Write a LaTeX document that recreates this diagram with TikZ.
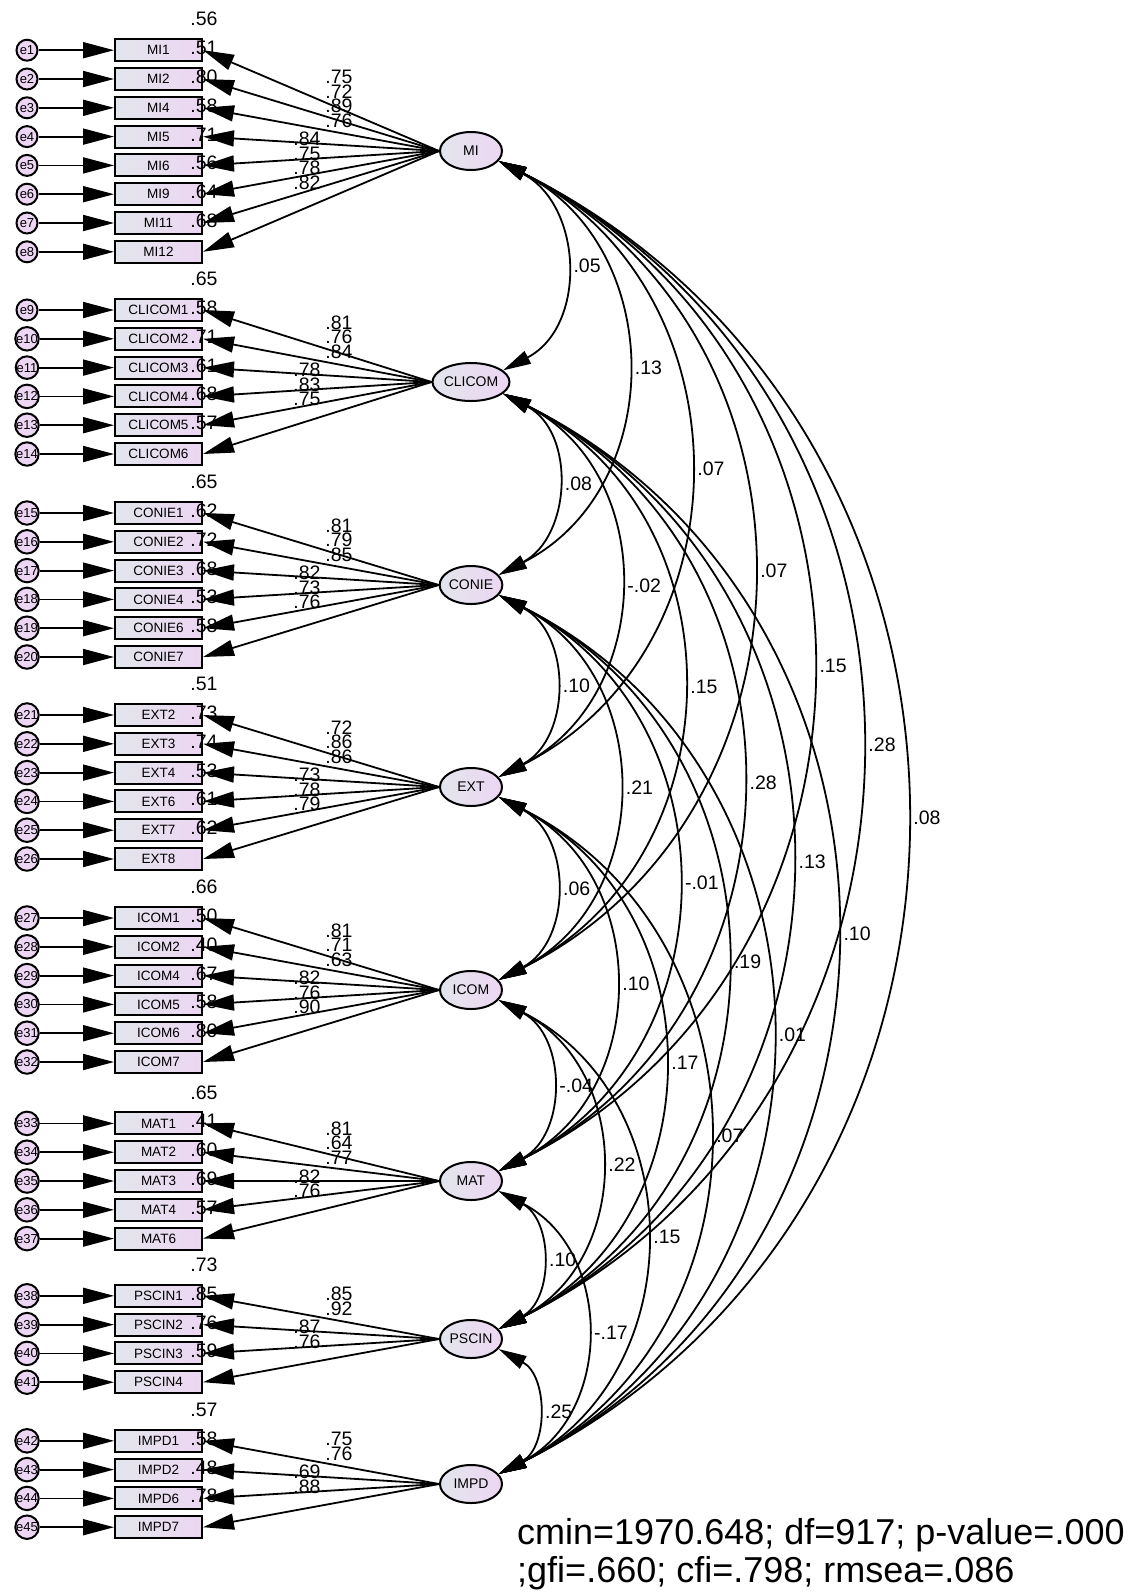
\documentclass[tikz,border=0pt]{standalone}
\usepackage{fontspec}
\setmainfont{Liberation Sans}
\usetikzlibrary{arrows.meta,shapes.geometric,calc}
\definecolor{fillL}{RGB}{226,230,236}
\definecolor{fillR}{RGB}{237,214,243}
\tikzset{
 obs/.style={draw, line width=2pt, minimum width=87pt, minimum height=22pt, inner sep=0pt, left color=fillL, right color=fillR, font=\fontsize{13.5}{13.5}\selectfont},
 lat/.style={ellipse, draw, line width=2pt, minimum width=62pt, minimum height=38pt, inner sep=0pt, left color=fillL, right color=fillR, font=\fontsize{14}{14}\selectfont},
 err/.style={circle, draw, line width=2pt, minimum size=21pt, inner sep=0pt, fill=fillR, font=\fontsize{13}{13}\selectfont},
 arr/.style={line width=1.8pt, -{Triangle[length=31pt,width=16pt]}},
 cov/.style={line width=1.8pt, {Triangle[length=28pt,width=14pt]}-{Triangle[length=28pt,width=14pt]}},
 num/.style={font=\fontsize{19.5}{19.5}\selectfont, inner sep=0pt},
 fit/.style={font=\fontsize{36}{36}\selectfont, inner sep=0pt, anchor=base west},
}
\newcommand\mkgroup[5]{%
  \node[lat] (#1) at (471,#2) {#1};
  \foreach \bx/\rr/\ld [count=\i from 0] in {#4} {
    \pgfmathsetmacro\off{(\i-(#3-1)/2)*28.8}
    \pgfmathsetmacro\yy{#2+\off}
    \pgfmathtruncatemacro\en{#5+\i}
    \pgfmathsetmacro\lx{\off>0 ? 307 : 339}
    \pgfmathsetmacro\ly{#2+\off/2-(\off>0 ? 19 : 23.5)}
    \node[obs] (\bx) at (158.5,\yy) {\bx};
    \node[err] (e\en) at (27,\yy) {e\en};
    \draw[arr] (e\en) -- (\bx);
    \draw[arr] (#1.west) -- (\bx.east);
    \node[num] (r\bx) at (204,\yy-31) {\rr};
    \node[num] (l\bx) at (\lx,\ly) {\ld};
  }
}
\newcommand\covar[3]{%
  \draw[cov] let \p1=(#1.-20), \p2=(#2.20), \n1={(\y1-\y2)/2}, \n2={0.62*\n1-1.6}, \n3={\n2/\n1}, \n4={0.6667*\n1*(1-\n3*\n3)}
  in (\p1) .. controls ({\x1+1.3333*\n2},{\y1-\n4}) and ({\x2+1.3333*\n2},{\y2+\n4}) .. (\p2)
  node[num, pos=0.5, anchor=west, xshift=8.5pt] {#3};}
\begin{document}
\begin{tikzpicture}[x=1pt,y=-1pt]
\fill[white] (0,0) rectangle (1145,1596);
\useasboundingbox (0,0) rectangle (1145,1596);
\mkgroup{MI}{151}{8}{MI1/.56/.75, MI2/.51/.72, MI4/.80/.89, MI5/.58/.76, MI6/.71/.84, MI9/.56/.75, MI11/.64/.78, MI12/.68/.82}{1}
\mkgroup{CLICOM}{382}{6}{CLICOM1/.65/.81, CLICOM2/.58/.76, CLICOM3/.71/.84, CLICOM4/.61/.78, CLICOM5/.68/.83, CLICOM6/.57/.75}{9}
\mkgroup{CONIE}{585}{6}{CONIE1/.65/.81, CONIE2/.62/.79, CONIE3/.72/.85, CONIE4/.68/.82, CONIE6/.53/.73, CONIE7/.58/.76}{15}
\mkgroup{EXT}{787}{6}{EXT2/.51/.72, EXT3/.73/.86, EXT4/.74/.86, EXT6/.53/.73, EXT7/.61/.78, EXT8/.62/.79}{21}
\mkgroup{ICOM}{990}{6}{ICOM1/.66/.81, ICOM2/.50/.71, ICOM4/.40/.63, ICOM5/.67/.82, ICOM6/.58/.76, ICOM7/.80/.90}{27}
\mkgroup{MAT}{1181}{5}{MAT1/.65/.81, MAT2/.41/.64, MAT3/.60/.77, MAT4/.69/.82, MAT6/.57/.76}{33}
\mkgroup{PSCIN}{1339}{4}{PSCIN1/.73/.85, PSCIN2/.85/.92, PSCIN3/.76/.87, PSCIN4/.59/.76}{38}
\mkgroup{IMPD}{1484}{4}{IMPD1/.57/.75, IMPD2/.58/.76, IMPD6/.48/.69, IMPD7/.78/.88}{42}
% covariances
\covar{MI}{CLICOM}{.05}
\covar{MI}{CONIE}{.13}
\covar{MI}{EXT}{.07}
\covar{MI}{ICOM}{.07}
\covar{MI}{MAT}{.15}
\covar{MI}{PSCIN}{.28}
\covar{MI}{IMPD}{.08}
\covar{CLICOM}{CONIE}{.08}
\covar{CLICOM}{EXT}{-.02}
\covar{CLICOM}{ICOM}{.15}
\covar{CLICOM}{MAT}{.28}
\covar{CLICOM}{PSCIN}{.13}
\covar{CLICOM}{IMPD}{.10}
\covar{CONIE}{EXT}{.10}
\covar{CONIE}{ICOM}{.21}
\covar{CONIE}{MAT}{-.01}
\covar{CONIE}{PSCIN}{.19}
\covar{CONIE}{IMPD}{.01}
\covar{EXT}{ICOM}{.06}
\covar{EXT}{MAT}{.10}
\covar{EXT}{PSCIN}{.17}
\covar{EXT}{IMPD}{.07}
\covar{ICOM}{MAT}{-.04}
\covar{ICOM}{PSCIN}{.22}
\covar{ICOM}{IMPD}{.15}
\covar{MAT}{PSCIN}{.10}
\covar{MAT}{IMPD}{-.17}
\covar{PSCIN}{IMPD}{.25}
\node[fit] (fitA) at (517,1544) {cmin=1970.648; df=917; p-value=.000};
\node[fit] (fitB) at (517,1582) {;gfi=.660; cfi=.798; rmsea=.086};
\end{tikzpicture}
\end{document}
